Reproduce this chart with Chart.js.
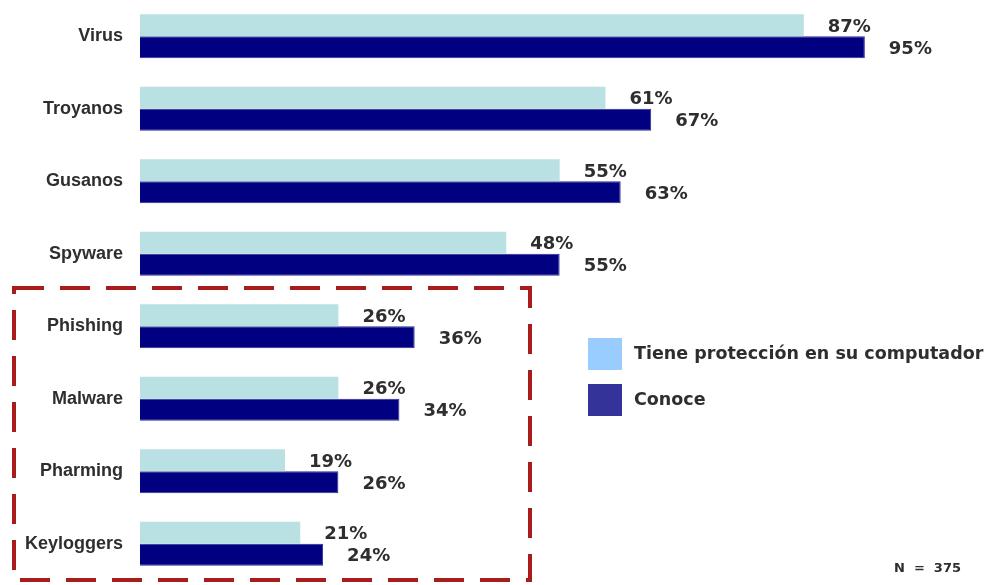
<!DOCTYPE html>
<html lang="es">
<head>
<meta charset="utf-8">
<script src="https://cdn.jsdelivr.net/npm/chart.js@4/dist/chart.umd.min.js"></script>
<style>
    html, body { margin: 0; padding: 0; background: #fff; }
    canvas { display: block; }
</style>
</head>
<body>
<canvas id="chart" width="988" height="585"></canvas>
<script>
const categories = ['Virus', 'Troyanos', 'Gusanos', 'Spyware', 'Phishing', 'Malware', 'Pharming', 'Keyloggers'];
const seriesNames = ['Tiene protección en su computador', 'Conoce'];
const proteccion = [87, 61, 55, 48, 26, 26, 19, 21];
const conoce = [95, 67, 63, 55, 36, 34, 26, 24];
const sampleNote = 'N = 375';

const barColors = ['#b9e0e2', '#000080'];
const legendColors = ['#99ccff', '#333399'];
const textColor = '#2e2e2e';

// percentage next to the end of every bar
const valueLabels = {
    id: 'valueLabels',
    afterDatasetsDraw(chart) {
        const ctx = chart.ctx;
        ctx.save();
        ctx.font = 'bold 18px "DejaVu Sans", Verdana, sans-serif';
        ctx.fillStyle = textColor;
        ctx.textAlign = 'left';
        ctx.textBaseline = 'middle';
        chart.data.datasets.forEach((ds, i) => {
            chart.getDatasetMeta(i).data.forEach((bar, j) => {
                ctx.fillText(ds.data[j] + '%', bar.x + 24, bar.y + 2);
            });
        });
        ctx.restore();
    }
};

// dashed frame around the last four categories
const dashedFrame = {
    id: 'dashedFrame',
    afterDraw(chart) {
        const y = chart.scales.y;
        const half = (y.getPixelForValue(1) - y.getPixelForValue(0)) / 2;
        const top = y.getPixelForValue(4) - half - 2;
        const bottom = y.getPixelForValue(7) + half;
        const ctx = chart.ctx;
        ctx.save();
        ctx.strokeStyle = '#a81c1c';
        ctx.lineWidth = 4;
        ctx.setLineDash([30, 16]);
        ctx.strokeRect(14, top, 516, bottom - top);
        ctx.restore();
    }
};

// legend at the right and the sample size note
const sideLegend = {
    id: 'sideLegend',
    afterDraw(chart) {
        const ctx = chart.ctx;
        ctx.save();
        ctx.font = 'bold 17.5px "DejaVu Sans", Verdana, sans-serif';
        ctx.textBaseline = 'middle';
        seriesNames.forEach((name, i) => {
            const top = 338 + i * 46;
            ctx.fillStyle = legendColors[i];
            ctx.fillRect(588, top, 34, 32);
            ctx.fillStyle = textColor;
            ctx.fillText(name, 634, top + 16);
        });
        ctx.font = 'bold 13px "DejaVu Sans", Verdana, sans-serif';
        ctx.textAlign = 'right';
        ctx.fillText(sampleNote.replace(/ /g, '  '), 961, 569);
        ctx.restore();
    }
};

new Chart(document.getElementById('chart'), {
    type: 'bar',
    data: {
        labels: categories,
        datasets: [
            { label: seriesNames[0], data: proteccion, backgroundColor: barColors[0] },
            { label: seriesNames[1], data: conoce, backgroundColor: barColors[1], borderColor: '#2c2c94', borderWidth: 1 }
        ]
    },
    options: {
        indexAxis: 'y',
        responsive: false,
        animation: false,
        layout: { padding: { top: 0, right: 85, bottom: 5, left: 0 } },
        datasets: { bar: { categoryPercentage: 0.61, barPercentage: 1 } },
        scales: {
            x: { display: false, min: 0, max: 100 },
            y: {
                grid: { display: false },
                border: { display: false },
                ticks: {
                    padding: 9,
                    color: textColor,
                    font: { family: '"Liberation Sans", Arial, sans-serif', size: 18, weight: 'bold' }
                },
                afterFit(scale) {
                    scale.width = 140;
                    scale.paddingTop = 0;
                    scale.paddingBottom = 0;
                }
            }
        },
        plugins: {
            legend: { display: false },
            tooltip: { enabled: false }
        }
    },
    plugins: [valueLabels, dashedFrame, sideLegend]
});
</script>
</body>
</html>
